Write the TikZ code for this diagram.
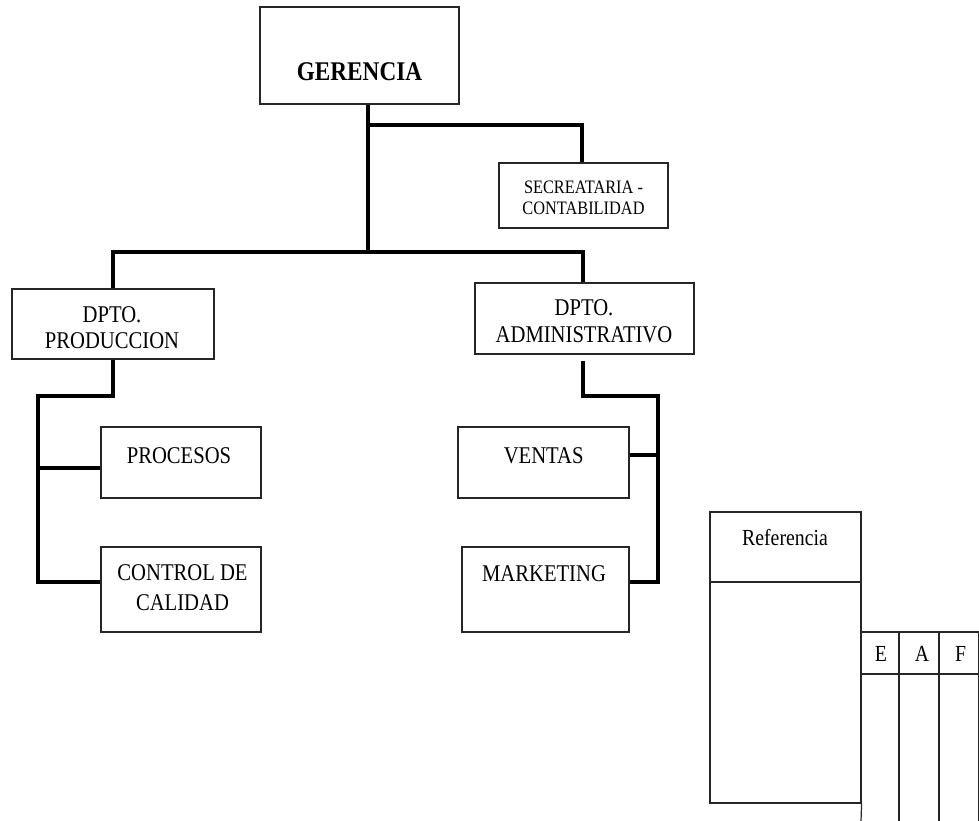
\documentclass[tikz,border=0pt]{standalone}
\usepackage{fontspec}
\setmainfont{Liberation Serif}[FakeStretch=0.86]
\begin{document}
\begin{tikzpicture}[x=1pt,y=-1pt,
  box/.style={draw=black!85, line width=1.2pt, inner sep=0pt, fill=white},
  conn/.style={line width=4pt, line join=miter, draw=black},
  grid/.style={draw=black!85, line width=1.2pt},
  txt/.style={inner sep=0pt, anchor=base, font=\fontsize{24}{27}\selectfont},
  stxt/.style={txt, font=\fontsize{19}{21}\selectfont},
  gtxt/.style={txt, font=\fontsize{27}{30}\selectfont\bfseries},
  rtxt/.style={txt, font=\fontsize{23}{26}\selectfont}
]
\useasboundingbox (0,0) rectangle (979,820);

% boxes
\node[box, minimum width=199pt, minimum height=97pt] (ger)  at (359.5,55.5) {};
\node[box, minimum width=169pt, minimum height=65pt] (sec)  at (583.5,195.5) {};
\node[box, minimum width=202pt, minimum height=70pt] (prod) at (113,324) {};
\node[box, minimum width=219pt, minimum height=71pt] (adm)  at (584.5,318.5) {};
\node[box, minimum width=160pt, minimum height=71pt] (proc) at (181,462.5) {};
\node[box, minimum width=160pt, minimum height=85pt] (ctrl) at (181,589.5) {};
\node[box, minimum width=171pt, minimum height=71pt] (ven)  at (543.5,462.5) {};
\node[box, minimum width=167pt, minimum height=85pt] (mkt)  at (545.5,589.5) {};
\node[box, minimum width=151pt, minimum height=291pt] (ref) at (785.5,657.5) {};

% texts
\node[gtxt] (tger) at (359.5,80) {GERENCIA};
\node[stxt] (tsec1) at (583.5,193.5) {SECREATARIA -};
\node[stxt] (tsec2) at (583.5,214) {CONTABILIDAD};
\node[txt] (tprod1) at (112,322) {DPTO.};
\node[txt] (tprod2) at (112,348) {PRODUCCION};
\node[txt] (tadm1) at (584,315) {DPTO.};
\node[txt] (tadm2) at (584,342) {ADMINISTRATIVO};
\node[txt] (tproc) at (179,463) {PROCESOS};
\node[txt] (tctrl1) at (182.5,580) {CONTROL DE};
\node[txt] (tctrl2) at (182.5,610) {CALIDAD};
\node[txt] (tven) at (543.7,463) {VENTAS};
\node[txt] (tmkt) at (544,581) {MARKETING};
\node[rtxt] (tref) at (785,545) {Referencia};

% junction coordinates
\coordinate (j1) at (368,125);
\coordinate (s1) at (582,125);
\coordinate (j2) at (368,252);
\coordinate (bl) at (113,252);
\coordinate (br) at (583,252);
\coordinate (lp) at (113,396);
\coordinate (lv) at (38,396);
\coordinate (la) at (38,468);
\coordinate (lb) at (38,582);
\coordinate (r0) at (583,361);
\coordinate (rp) at (583,396);
\coordinate (rv) at (658,396);
\coordinate (ra) at (658,455);
\coordinate (rb) at (658,582);

% connectors
\draw[conn] (ger.south -| j1) -- (j2);
\draw[conn] (j1) -- (s1) -- (s1 |- sec.north);
\draw[conn] (prod.north -| bl) -- (bl) -- (br) -- (adm.north -| br);
\draw[conn] (prod.south -| lp) -- (lp) -- (lv) -- (lb) -- (lb -| ctrl.west);
\draw[conn] (la) -- (la -| proc.west);
\draw[conn] (r0) -- (rp) -- (rv) -- (rb) -- (rb -| mkt.east);
\draw[conn] (ra) -- (ra -| ven.east);

% reference legend
\coordinate (rd) at (710,582);
\draw[grid] (rd) -- (rd -| ref.east);
\coordinate (tl) at (861,632);
\coordinate (tr) at (978.5,632);
\coordinate (th) at (861,674);
\coordinate (c1) at (899,632);
\coordinate (c2) at (939,632);
\draw[grid] (ref.south east) -- (861,821);
\draw[grid] (tl) -- (tr) -- (978.5,821);
\draw[grid] (th) -- (th -| tr);
\draw[grid] (c1) -- (899,821);
\draw[grid] (c2) -- (939,821);
\node[rtxt] (tE) at (880.8,661.7) {E};
\node[rtxt] (tA) at (922,661.7) {A};
\node[rtxt] (tF) at (960.5,661.7) {F};
\end{tikzpicture}
\end{document}
